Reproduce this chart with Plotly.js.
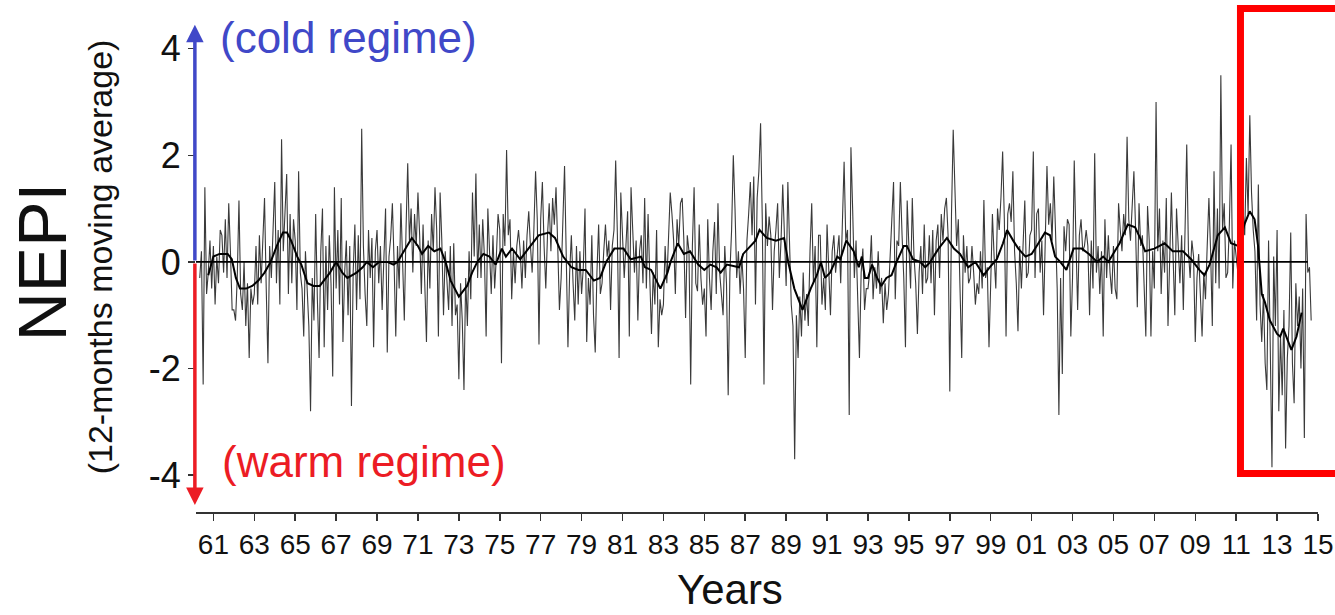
<!DOCTYPE html>
<html>
<head>
<meta charset="utf-8">
<script src="https://cdn.plot.ly/plotly-3.0.1.min.js"></script>
<style>
  html, body { margin: 0; padding: 0; background: #fff; }
  #chart { width: 1335px; height: 615px; }
</style>
</head>
<body>
<div id="chart"></div>
<script>
// Monthly NEPI values, first value = May 1960
const startYear = 1960;
const startMonth = 5;

const nepi1960s = [
  -0.3, 0.2, -2.3, 1.4, -0.6, -0.2, 0.4, -0.5,
  0.3, -0.8, 0.1, -0.4, 0.6, 0.5, -0.2, 0.8, -0.3, 1.1, 0.2, -0.9,
  -0.9, -1.1, -0.3, 1.15, -0.6, -0.9, 0.0, -1.2, -0.4, -1.8, -0.5, -0.8,
  -0.6, 0.3, -0.8, 0.5, -0.4, 0.6, 1.2, -0.5, -1.9, 0.3, -0.3, 0.6,
  1.5, -0.4, 0.6, -0.8, 2.3, 0.2, 1.0, 1.65, -0.6, 0.9, -0.4, 0.8,
  0.4, -0.9, 1.7, -0.2, -0.5, -1.4, 0.2, -0.6, -1.2, -2.8, -0.3, -1.1,
  0.9, -0.7, -1.8, 0.2, 1.0, -1.6, 0.3, -0.9, 0.5, -0.4, -2.15, 1.4,
  -0.5, 0.6, -0.8, 1.2, -1.5, -0.2, 0.4, -1.0, 0.3, -2.7, -0.2, 0.7,
  -0.9, 0.5, -0.7, 2.5, 0.3, -0.6, -1.2, 0.6, -0.3, 0.45, -1.6, 0.2,
  0.6, -0.4, 0.3, -0.9, 0.2, 1.0, -1.7, 0.1, 0.45, 1.1, 0.0, -1.4
];
const nepi1970s = [
  0.3, -0.5, 1.1, 0.2, -1.1, 0.6, 1.85, 0.4, 1.0, -0.2, 0.9, 0.3,
  1.3, 0.5, -0.6, 0.7, -0.3, -1.5, 0.4, -0.5, 0.9, 0.2, 1.4, 0.6,
  -1.4, 1.3, 0.4, -1.0, 0.2, -0.3, -0.9, 0.3, -1.2, 0.35, -1.0, -0.8,
  -2.2, -0.4, -1.1, -2.4, -0.3, -1.2, 0.2, -0.7, 1.3, 0.1, 1.66, -0.3,
  0.7, -0.3, 0.8, 0.1, -1.4, 1.0, 0.2, -0.6, 0.5, -0.5, 0.1, 0.9,
  0.6, -1.9, 0.9, 0.3, 2.1, 0.5, 0.8, -0.7, 0.2, -0.4, 0.3, 0.6,
  0.2, -0.5, 0.4, -0.3, 0.5, 0.95, 0.3, -0.2, 0.6, 1.7, 0.8, -1.55,
  0.8, 1.5, 0.3, -0.5, 0.5, 1.1, 0.2, 1.2, 0.7, 1.4, 0.3, -0.9,
  -0.3, 0.6, 1.8, 0.1, -1.6, -0.2, 0.5, -0.4, -1.1, 0.3, -0.8, 0.2,
  -0.6, -0.1, 1.0, -1.5, -0.3, -0.8, 0.5, -1.0, -1.7, -0.2, 0.7, -0.6
];
const nepi1980s = [
  -0.4, 0.2, 0.7, 0.1, 0.4, -0.9, 0.3, 0.6, 1.9, 0.5, -1.8, 1.3,
  0.5, -0.3, 0.3, 0.95, -1.4, 1.4, 0.6, -0.2, 0.4, -1.1, 0.2, 0.5,
  -0.4, 1.2, -0.5, 0.9, -0.3, -1.35, -0.2, -0.8, 0.6, -1.6, -0.7, -1.0,
  -0.8, 0.3, -0.4, 0.6, 1.3, 0.9, 0.4, -0.6, 0.8, 0.3, 1.1, 1.2,
  0.4, -1.05, 0.5, 0.2, -2.3, 0.3, 1.4, -0.4, -0.55, 0.7, -0.3, -0.8,
  -0.5, -1.4, 0.8, -0.3, -0.9, 0.2, 0.75, -0.6, 1.1, -0.2, -0.7, -1.0,
  0.3, -0.4, -2.5, -0.2, 0.6, 2.0, 1.0, -0.3, 0.2, -0.6, 0.1, -0.5,
  -1.8, 0.4, 0.9, 1.5, 0.5, 1.6, -0.8, 1.2, 1.7, 2.6, 0.8, -2.3,
  1.1, 0.3, 0.85, 0.5, -0.9, 0.2, 0.6, 1.1, -0.3, 0.4, 1.45, 0.3,
  -0.45, 1.5, 0.3, -0.8, -1.2, -3.7, -1.0, -1.8, -0.65, -1.4, -0.2, -1.1
];
const nepi1990s = [
  -0.6, -1.2, 0.2, 1.1, -0.4, 0.3, -1.6, 0.5, 0.5, -0.8, -0.3, -0.9,
  0.7, -0.3, -1.0, 0.2, 0.5, -0.2, 0.1, 0.5, -0.4, 0.6, 1.88, 0.4,
  0.6, -2.87, 2.15, 1.0, -0.3, 0.4, -0.6, -1.8, -0.2, 0.25, -0.9, -0.5,
  -0.5, -0.2, 0.5, -0.7, -0.1, -0.5, 0.2, -0.6, -0.3, -1.15, -0.4, -0.9,
  -0.6, 0.2, 0.7, 1.5, -0.7, 0.4, 0.3, 1.5, 0.5, -0.3, -1.6, 1.15,
  0.3, -0.5, 1.2, 0.1, -0.4, -1.35, -0.2, 0.3, -0.6, 0.7, -0.4, -0.3,
  0.5, -0.4, 0.6, -1.0, 0.4, 0.7, -0.3, 0.9, 0.4, 1.0, 1.2, 0.5,
  -2.43, 0.9, 2.48, 1.3, 0.3, 0.8, -0.5, -1.8, 0.5, -0.2, 0.3, -0.4,
  -0.3, 0.3, -0.2, -0.8, -0.4, -0.6, 0.2, -0.5, 1.16, -0.3, -0.1, -1.6,
  -0.4, 0.9, 0.1, -0.5, 1.0, 0.6, 1.2, 2.07, 0.8, -1.4, 0.9, 1.1
];
const nepi2000s = [
  0.75, 1.7, 0.2, -0.4, -1.3, 0.3, -0.5, 0.4, 1.15, -0.3, -0.2, 0.5,
  0.6, 2.07, -0.3, 0.9, 1.0, -0.2, 0.4, -1.0, 0.5, 1.8, 0.7, 1.1,
  0.4, 1.6, 0.6, -0.5, -2.87, -0.3, -2.1, 0.67, 0.2, 0.8, 0.7, -1.4,
  -0.3, 1.9, 0.4, -0.9, 0.5, 0.8, 0.2, 0.3, 0.6, 0.3, -1.0, 0.4,
  -0.5, 2.04, -0.2, 0.3, -0.6, 0.2, -1.4, 0.8, -0.3, 0.5, -0.2, -0.6,
  0.3, -0.5, -0.7, 1.1, 0.6, 0.2, 0.9, 0.5, 2.35, 0.8, 0.4, 1.2,
  1.7, 0.6, -0.85, 1.1, 0.3, 0.5, -0.6, -1.4, 1.05, 0.4, -1.4, 0.2,
  -0.5, 3.0, 0.2, 1.0, -0.6, 0.4, -0.2, 1.2, -1.2, 0.3, 1.3, 0.1,
  -1.0, 1.0, 0.3, -0.4, 0.5, -0.9, 0.6, 2.2, 0.2, -0.3, 0.4, 0.1,
  -1.5, -0.3, 0.15, -0.6, -1.4, -0.2, -0.7, 0.3, 1.2, 0.2, -1.2, 1.7
];
const nepi2010s = [
  -0.4, 1.0, -0.5, 3.5, 0.6, 1.1, -0.3, -0.2, 0.7, 2.2, -0.5, 0.4,
  0.1, -0.2, 0.6, 0.4, 1.0, 0.5, 1.95, 0.9, 2.75, 1.3, 0.6, 0.2,
  -1.1, 1.45, -0.8, -1.5, -0.6, -1.9, -2.4, 0.4, -1.6, -3.85, 0.1, -1.2,
  0.6, -2.8, -1.4, -2.5, -0.9, -3.5, -1.8, -1.2, 0.55, -1.9, -2.65, -0.4,
  -1.2, -0.65, -2.0, -0.5, -3.3, 0.9, -0.2, -0.1, -1.1
];

// 12-month moving average (decimal year, value)
const smoothYears = [
  1960.75, 1961.0, 1961.3, 1961.7, 1961.9, 1962.1, 1962.3, 1962.6, 1962.9, 1963.2,
  1963.5, 1963.8, 1964.1, 1964.4, 1964.6, 1964.8, 1965.1, 1965.3, 1965.6, 1965.9,
  1966.2, 1966.5, 1966.7, 1967.0, 1967.3, 1967.55, 1967.8, 1968.0, 1968.3, 1968.5,
  1968.8, 1969.1, 1969.5, 1969.8, 1970.0, 1970.3, 1970.7, 1971.0, 1971.2, 1971.5,
  1971.8, 1972.1, 1972.35, 1972.6, 1973.0, 1973.4, 1973.65, 1973.9, 1974.2, 1974.5,
  1974.8, 1975.1, 1975.3, 1975.6, 1976.0, 1976.4, 1976.9, 1977.4, 1977.7, 1978.1,
  1978.5, 1978.85, 1979.2, 1979.6, 1979.9, 1980.2, 1980.6, 1981.05, 1981.4, 1981.9,
  1982.1, 1982.4, 1982.85, 1983.2, 1983.35, 1983.7, 1984.0, 1984.3, 1984.7, 1985.0,
  1985.3, 1985.6, 1985.8, 1986.1, 1986.7, 1986.9, 1987.5, 1987.7, 1988.05, 1988.5,
  1988.9, 1989.1, 1989.4, 1989.8, 1990.2, 1990.5, 1990.7, 1990.9, 1991.15, 1991.5,
  1991.65, 1991.94, 1992.3, 1992.55, 1992.7, 1992.85, 1993.0, 1993.2, 1993.45, 1993.65,
  1993.9, 1994.15, 1994.4, 1994.75, 1994.9, 1995.2, 1995.55, 1995.8, 1996.05, 1996.2,
  1996.45, 1996.86, 1997.2, 1997.5, 1997.9, 1998.25, 1998.65, 1998.95, 1999.3, 1999.6,
  1999.8, 2000.1, 2000.35, 2000.7, 2001.0, 2001.25, 2001.65, 2001.9, 2002.15, 2002.4,
  2002.7, 2003.05, 2003.45, 2003.8, 2004.2, 2004.5, 2004.75, 2005.3, 2005.7, 2006.06,
  2006.3, 2006.55, 2007.0, 2007.5, 2007.9, 2008.4, 2008.8, 2009.2, 2009.45, 2009.7,
  2010.1, 2010.45, 2010.75, 2011.1, 2011.4, 2011.66, 2011.9, 2012.07, 2012.25, 2012.4,
  2012.65, 2013.0, 2013.15, 2013.3, 2013.55, 2013.7, 2013.95, 2014.2
];
const smoothValues = [
  -0.25, 0.1, 0.15, 0.15, 0.05, -0.3, -0.5, -0.5, -0.45, -0.35,
  -0.2, 0.0, 0.3, 0.55, 0.55, 0.4, 0.1, -0.05, -0.4, -0.45,
  -0.45, -0.3, -0.2, 0.0, -0.2, -0.3, -0.25, -0.2, -0.1, 0.0,
  -0.1, 0.0, 0.0, -0.05, 0.0, 0.2, 0.45, 0.3, 0.15, 0.3,
  0.2, 0.25, 0.0, -0.35, -0.65, -0.45, -0.2, 0.0, 0.15, 0.1,
  -0.05, 0.25, 0.1, 0.25, 0.05, 0.25, 0.5, 0.55, 0.45, 0.1,
  -0.1, -0.15, -0.15, -0.35, -0.3, 0.0, 0.25, 0.25, 0.05, 0.1,
  -0.1, -0.15, -0.5, -0.2, 0.0, 0.35, 0.15, 0.2, -0.05, -0.15,
  -0.05, -0.1, -0.2, -0.05, -0.1, 0.15, 0.4, 0.6, 0.45, 0.4,
  0.45, 0.0, -0.5, -0.9, -0.5, -0.25, 0.0, -0.3, -0.2, 0.1,
  0.05, 0.4, 0.2, -0.1, 0.1, -0.3, -0.3, -0.05, -0.3, -0.45,
  -0.3, -0.25, 0.0, 0.3, 0.3, 0.05, 0.0, -0.1, 0.0, 0.1,
  0.25, 0.45, 0.25, 0.15, -0.1, 0.0, -0.25, -0.1, 0.05, 0.35,
  0.6, 0.4, 0.25, 0.1, 0.15, 0.3, 0.55, 0.5, 0.1, 0.0,
  -0.15, 0.25, 0.25, 0.15, 0.0, 0.1, 0.0, 0.35, 0.7, 0.65,
  0.45, 0.2, 0.25, 0.35, 0.2, 0.2, 0.05, -0.15, -0.25, -0.05,
  0.5, 0.65, 0.35, 0.3, 0.7, 0.95, 0.8, 0.3, -0.6, -0.75,
  -1.1, -1.35, -1.4, -1.25, -1.5, -1.65, -1.4, -0.95
];

const xTickYears = [1961,1963,1965,1967,1969,1971,1973,1975,1977,1979,1981,1983,1985,1987,1989,
  1991,1993,1995,1997,1999,2001,2003,2005,2007,2009,2011,2013,2015];
const xTickText = ['61','63','65','67','69','71','73','75','77','79','81','83','85','87','89',
  '91','93','95','97','99','01','03','05','07','09','11','13','15'];
const yTickVals = [-4, -2, 0, 2, 4];
const yTickText = ['-4', '-2', '0', '2', '4'];

const monthly = [].concat(nepi1960s, nepi1970s, nepi1980s, nepi1990s, nepi2000s, nepi2010s);
const monthX = monthly.map((v, i) => startYear + (startMonth - 1 + i) / 12);

const FONT = 'Arial, "Liberation Sans", sans-serif';
const BLUE = '#4048c8';
const RED = '#ec1c24';

const traces = [
  {
    x: monthX, y: monthly, type: 'scatter', mode: 'lines',
    line: { color: '#3a3a3a', width: 1.1 }, hoverinfo: 'skip'
  },
  {
    x: smoothYears, y: smoothValues, type: 'scatter', mode: 'lines',
    line: { color: '#000000', width: 2 }, hoverinfo: 'skip'
  }
];

const layout = {
  width: 1335, height: 615,
  margin: { l: 196, r: 17, t: 22, b: 103 },
  paper_bgcolor: '#ffffff', plot_bgcolor: '#ffffff',
  showlegend: false,
  font: { family: FONT, color: '#111' },
  xaxis: {
    range: [1960.15, 2015.0],
    showgrid: false, zeroline: false,
    showline: true, linecolor: '#333', linewidth: 1.5,
    ticks: 'outside', ticklen: 7, tickwidth: 1.5, tickcolor: '#333',
    tickmode: 'array', tickvals: xTickYears, ticktext: xTickText,
    tickfont: { family: FONT, size: 28, color: '#111' }
  },
  yaxis: {
    range: [-4.69, 4.5],
    showgrid: false, zeroline: false, showline: false,
    ticks: 'outside', ticklen: 7, tickwidth: 1.5, tickcolor: '#333',
    tickmode: 'array', tickvals: yTickVals, ticktext: yTickText,
    tickfont: { family: FONT, size: 36, color: '#111' }
  },
  shapes: [
    { type: 'line', xref: 'x', yref: 'y', x0: 1960.15, x1: 2014.5, y0: 0, y1: 0,
      line: { color: '#000', width: 1.8 } },
    { type: 'rect', xref: 'paper', yref: 'paper', x0: 0.9309, x1: 1.06, y0: 0.0785, y1: 1.0275,
      line: { color: '#ff0000', width: 7 }, fillcolor: 'rgba(0,0,0,0)' }
  ],
  annotations: [
    { xref: 'paper', yref: 'y', x: -0.001, y: 4.45, axref: 'pixel', ayref: 'y', ax: 0, ay: 0,
      text: '', showarrow: true, arrowhead: 2, arrowsize: 1, arrowwidth: 3.5, arrowcolor: BLUE },
    { xref: 'paper', yref: 'y', x: -0.001, y: -4.56, axref: 'pixel', ayref: 'y', ax: 0, ay: 0,
      text: '', showarrow: true, arrowhead: 2, arrowsize: 1, arrowwidth: 3.5, arrowcolor: RED },
    { xref: 'paper', yref: 'paper', x: 0.0196, y: 0.968, xanchor: 'left', yanchor: 'middle',
      text: '(cold regime)', showarrow: false, font: { family: FONT, size: 44, color: BLUE } },
    { xref: 'paper', yref: 'paper', x: 0.0215, y: 0.103, xanchor: 'left', yanchor: 'middle',
      text: '(warm regime)', showarrow: false, font: { family: FONT, size: 44, color: RED } },
    { xref: 'paper', yref: 'paper', x: 0.476, y: -0.158, xanchor: 'center', yanchor: 'middle',
      text: 'Years', showarrow: false, font: { family: FONT, size: 42, color: '#111' } },
    { xref: 'paper', yref: 'paper', x: -0.1375, y: 0.511, xanchor: 'center', yanchor: 'middle',
      text: 'NEPI', textangle: -90, showarrow: false, font: { family: FONT, size: 68, color: '#111' } },
    { xref: 'paper', yref: 'paper', x: -0.0855, y: 0.52, xanchor: 'center', yanchor: 'middle',
      text: '(12-months moving average)', textangle: -90, showarrow: false,
      font: { family: FONT, size: 34, color: '#111' } }
  ]
};

Plotly.newPlot('chart', traces, layout, { staticPlot: true, displayModeBar: false });
</script>
</body>
</html>
